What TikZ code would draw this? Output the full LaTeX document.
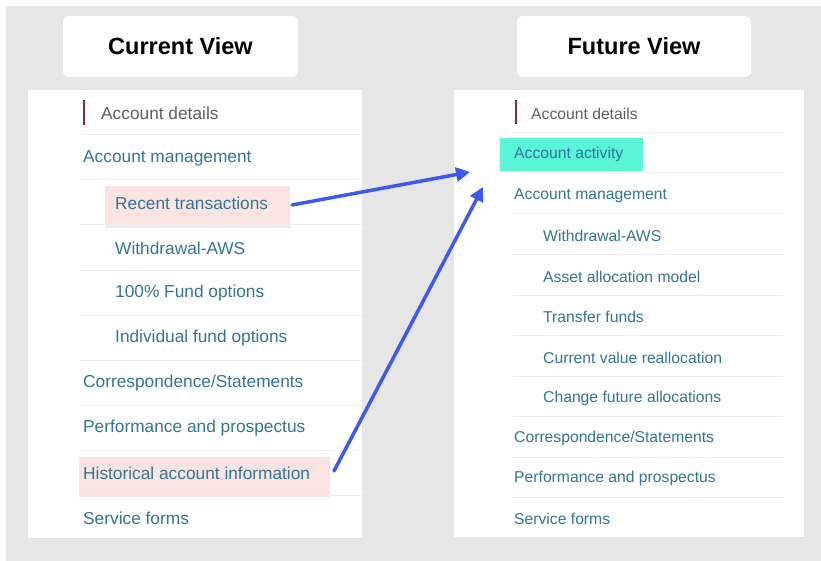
\documentclass[tikz,border=0pt]{standalone}
\usepackage{fontspec}
\setmainfont{Liberation Sans}
\usetikzlibrary{arrows.meta}
\definecolor{bggray}{RGB}{230,230,230}
\definecolor{linkc}{RGB}{50,118,150}
\definecolor{detc}{RGB}{95,95,95}
\definecolor{barc}{RGB}{140,40,55}
\definecolor{sepc}{RGB}{238,238,238}
\definecolor{pinkc}{RGB}{250,228,226}
\definecolor{tealc}{RGB}{90,245,215}
\definecolor{arrc}{RGB}{60,90,240}
\tikzset{
  titlebox/.style={fill=white, rounded corners=6pt, draw=none, inner sep=0pt, font=\fontsize{23.5}{26}\selectfont\bfseries, text=black},
  panel/.style={fill=white, draw=none},
  itemL/.style={anchor=west, inner sep=0pt, yshift=-1.5pt, text=linkc, font=\fontsize{17.3}{19}\selectfont},
  itemR/.style={anchor=west, inner sep=0pt, yshift=-1.5pt, text=linkc, font=\fontsize{15.7}{18}\selectfont},
  sepline/.style={draw=sepc, line width=1pt},
  bar/.style={draw=barc, line width=2.5pt},
  hl/.style={anchor=north west, inner sep=0pt, draw=none},
  moveto/.style={draw=arrc, line width=3.5pt, line cap=round, -{Triangle[length=14pt,width=14pt]}}
}
\begin{document}
\begin{tikzpicture}[x=1pt,y=-1pt]
\useasboundingbox (0,0) rectangle (821,561);
\fill[white] (0,0) rectangle (821,561);
\fill[bggray] (6,6) rectangle (821,561);
% titles
\node[titlebox, minimum width=235pt, minimum height=61pt] (tcur) at (180.5,46.5) {Current View};
\node[titlebox, minimum width=234pt, minimum height=61pt] (tfut) at (634,46.5) {Future View};
% panels
\fill[panel] (28,90) rectangle (362,538);
\fill[panel] (454,90) rectangle (804,537);
% left highlights
\node[hl, fill=pinkc, minimum width=185pt, minimum height=42pt] (rthl) at (105,186) {};
\node[hl, fill=pinkc, minimum width=251pt, minimum height=40pt] (hihl) at (79,457) {};
% left separators
\foreach \y in {135,180,225,270,315,360,405,450,495}
  \draw[sepline] (80,\y) -- (362,\y);
% left items
\draw[bar] (84,100) -- (84,125);
\node[itemL, text=detc] (l1) at (101,112) {Account details};
\node[itemL] (l2) at (83,157) {Account management};
\node[itemL] (l3) at (115,202) {Recent transactions};
\node[itemL] (l4) at (115,247) {Withdrawal-AWS};
\node[itemL] (l5) at (115,292) {100\% Fund options};
\node[itemL] (l6) at (115,337) {Individual fund options};
\node[itemL] (l7) at (83,382) {Correspondence/Statements};
\node[itemL] (l8) at (83,427) {Performance and prospectus};
\node[itemL] (l9) at (83,472) {Historical account information};
\node[itemL] (l10) at (83,517) {Service forms};
% right highlight
\node[hl, fill=tealc, minimum width=143pt, minimum height=33pt] (aahl) at (500,138) {};
% right separators
\foreach \y in {133,173,214,254,295,335,376,416,457,497}
  \draw[sepline] (513,\y) -- (783,\y);
% right items
\draw[bar] (516,100) -- (516,124);
\node[itemR, text=detc] (r1) at (531,112) {Account details};
\node[itemR] (r2) at (514,153) {Account activity};
\node[itemR] (r3) at (514,194) {Account management};
\node[itemR] (r4) at (543,234) {Withdrawal-AWS};
\node[itemR] (r5) at (543,275) {Asset allocation model};
\node[itemR] (r6) at (543,315) {Transfer funds};
\node[itemR] (r7) at (543,356) {Current value reallocation};
\node[itemR] (r8) at (543,397) {Change future allocations};
\node[itemR] (r9) at (514,437) {Correspondence/Statements};
\node[itemR] (r10) at (514,477) {Performance and prospectus};
\node[itemR] (r11) at (514,517) {Service forms};
% arrows
\coordinate (a1s) at (292,205);
\coordinate (a1e) at (470,172);
\coordinate (a2s) at (334,471);
\coordinate (a2e) at (483,187);
\draw[moveto] (a1s) -- (a1e);
\draw[moveto] (a2s) -- (a2e);
\end{tikzpicture}
\end{document}
